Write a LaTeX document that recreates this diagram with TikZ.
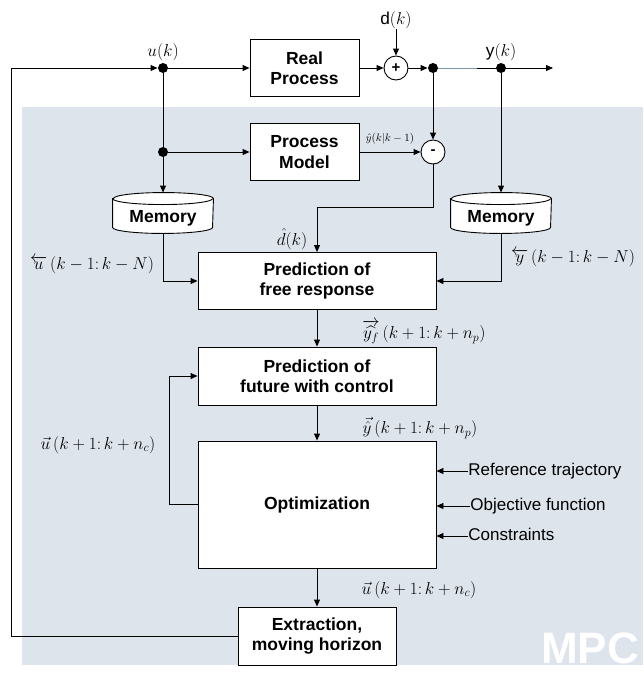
\documentclass[tikz,border=0pt]{standalone}
\usepackage{amsmath}
\usepackage{fontspec}
\setmainfont{Liberation Sans}
\usetikzlibrary{arrows.meta,calc}
\definecolor{mpcbg}{RGB}{222,228,236}
\definecolor{bluegray}{RGB}{125,150,175}
\newcommand\drawMemCyl[1]{%
  \draw[fill=white] ($(#1.north west)+(0,6)$) -- ($(#1.south west)+(0,-6)$)
    arc[start angle=180,end angle=360,x radius=50pt,y radius=6pt]
    -- ($(#1.north east)+(0,6)$)
    arc[start angle=0,end angle=180,x radius=50pt,y radius=6pt] -- cycle;
  \draw ($(#1.north west)+(0,6)$) arc[start angle=180,end angle=360,x radius=50pt,y radius=6pt];}
\begin{document}
\begin{tikzpicture}[x=1pt,y=-1pt,line width=0.9pt,
  >={Triangle[length=7pt,width=6pt]},
  blk/.style 2 args={draw,fill=white,align=center,inner sep=0pt,minimum width=#1,minimum height=#2,
     font=\bfseries\fontsize{17.5}{20.5}\selectfont},
  sumc/.style={circle,draw,fill=white,minimum size=24pt,inner sep=0pt,font=\bfseries\fontsize{15}{15}\selectfont},
  dot/.style={circle,fill=black,minimum size=10pt,inner sep=0pt},
  ml/.style={inner sep=0pt,font=\fontsize{17.28}{20}\selectfont},
  rtxt/.style={inner sep=0pt,anchor=west,text height=12pt,text depth=3.5pt,font=\fontsize{17}{20}\selectfont},
  memnode/.style={minimum width=100pt,minimum height=40pt,inner sep=0pt},
  memtxt/.style={inner sep=0pt,font=\bfseries\fontsize{17.5}{20.5}\selectfont}]
\useasboundingbox (0,0) rectangle (643,675);
\fill[mpcbg] (22,107) rectangle (643,665);

% blocks
\node[blk={109pt}{57pt}] (real) at (304.5,68) {Real\\Process};
\node[blk={109pt}{57pt}] (model) at (304.5,152) {Process\\Model};
\node[blk={238pt}{57pt}] (pfr) at (317,281) {Prediction of\\free response};
\node[blk={238pt}{58pt}] (pfc) at (317,376) {Prediction of\\future with control};
\node[blk={238pt}{127pt}] (opt) at (317,504.5) {Optimization};
\node[blk={158pt}{58pt}] (ext) at (317,636) {Extraction,\\moving horizon};

% summing junctions
\node[sumc] (plus) at (396,68) {+};
\node[sumc] (minus) at (433,152) {-};

% dots
\node[dot] (u) at (163,68) {};
\node[dot] (u2) at (163,152) {};
\node[dot] (yd1) at (433,68) {};
\node[dot] (yk) at (501,68) {};
\coordinate (ybreak) at (477,68);
\coordinate (yout) at (553,68);

% memories
\node[memnode] (mem1) at (163,213) {};
\drawMemCyl{mem1}
\node[memtxt] (mem1t) at (163,218) {Memory};
\node[memnode] (mem2) at (501,213) {};
\drawMemCyl{mem2}
\node[memtxt] (mem2t) at (501,218) {Memory};

% labels
\node[ml] (ulab) at (163,52) {$u(k)$};
\node[ml] (dlab) at (396,20) {d$(k)$};
\node[ml] (ylab) at (501,52) {y$(k)$};
\node[inner sep=0pt,font=\fontsize{11}{13}\selectfont] (yhlab) at (390,139) {$\hat{y}(k|k-1)$};
\node[ml] (dhlab) at (292,239) {$\hat{d}(k)$};
\node[ml] (ulab2) at (92,265) {$\overleftarrow{u}\,(k-1{:}\,k-N)$};
\node[ml] (ylab2) at (573,258) {$\overleftarrow{y}\,(k-1{:}\,k-N)$};
\node[ml] (yflab) at (424,332) {$\overrightarrow{\widehat{y_f}}\,(k+1{:}\,k+n_p)$};
\node[ml] (yvlab) at (420,428) {$\vec{\hat{y}}\,(k+1{:}\,k+n_p)$};
\node[ml] (uvlab) at (98,445) {$\vec{u}\,(k+1{:}\,k+n_c)$};
\node[ml] (uvlab2) at (419,590) {$\vec{u}\,(k+1{:}\,k+n_c)$};

% right inputs
\node[rtxt] (reft) at (468,471) {Reference trajectory};
\node[rtxt] (objt) at (470,506) {Objective function};
\node[rtxt] (cont) at (468,536) {Constraints};

\node[inner sep=0pt,anchor=base,text=white,font=\bfseries\fontsize{44}{44}\selectfont] (mpc) at (590,663) {MPC};

% connectors
\draw[->] (u) -- (real);
\draw[->] (real) -- (plus);
\draw[->] (dlab) -- (plus);
\draw[->] (plus) -- (yd1);
\draw[bluegray,line width=0.6pt] (yd1) -- (ybreak);
\draw (ybreak) -- (yk);
\draw[->] (yk) -- (yout);
\draw[->] (yd1) -- (minus);
\draw[->] (yk) -- (mem2.north);
\draw (u) -- (u2);
\draw[->] (u2) -- (model);
\draw[->] (u2) -- (mem1.north);
\draw[->] (model) -- (minus);
\draw[->] (minus.south) |- ($(pfr.north)+(0,-45)$) -| (pfr.north);
\draw[->] (mem1.south) |- (pfr.west);
\draw[->] (mem2.south) |- (pfr.east);
\draw[->] (pfr) -- (pfc);
\draw[->] (pfc) -- (opt);
\draw[->] (opt.west) -- ++(-28,0) |- (pfc.west);
\draw[->] (opt) -- (ext);
\draw[->] (ext.west) -- ++(-226,0) |- (u);
\draw[->] (reft.west) -- (opt.east |- reft.west);
\draw[->] (objt.west) -- (opt.east |- objt.west);
\draw[->] (cont.west) -- (opt.east |- cont.west);
\end{tikzpicture}
\end{document}
